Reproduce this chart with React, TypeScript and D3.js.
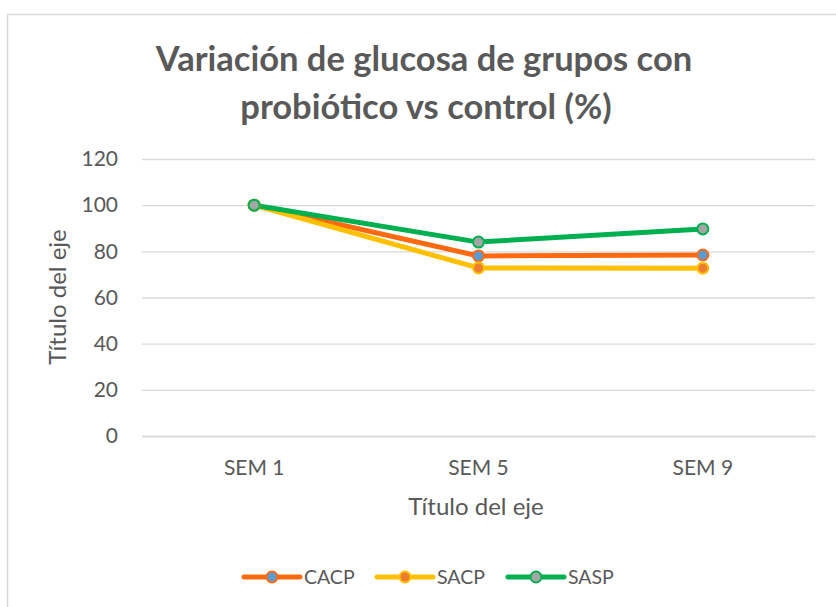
import React, { useEffect, useRef } from "react";
import * as d3 from "d3";

const categories = ["SEM 1", "SEM 5", "SEM 9"];
const seriesNames = ["CACP", "SACP", "SASP"];
const cacp = [100, 78, 78.4];
const sacp = [100, 72.8, 72.7];
const sasp = [100, 84, 89.7];
const yTicks = [0, 20, 40, 60, 80, 100, 120];

const lineColors = ["#FF6A10", "#FFC000", "#00B050"];
const markerFills = ["#5B9BD5", "#ED7D31", "#A5A5A5"];

const W = 836;
const H = 607;
const font = "Lato, 'Open Sans', sans-serif";
const grey = "#595959";

export default function App() {
  const ref = useRef<SVGSVGElement>(null);

  useEffect(() => {
    document.body.style.margin = "0";
    const svg = d3.select(ref.current);
    svg.selectAll("*").remove();

    const plot = { left: 142, right: 815, top: 159, bottom: 436 };
    const x = d3.scaleBand().domain(categories).range([plot.left, plot.right]);
    const y = d3.scaleLinear().domain([0, 120]).range([plot.bottom, plot.top]);
    const cx = (c: string) => (x(c) as number) + x.bandwidth() / 2;

    svg
      .append("rect")
      .attr("x", 7.5)
      .attr("y", 14.5)
      .attr("width", W)
      .attr("height", H)
      .attr("fill", "#fff")
      .attr("stroke", "#D9D9D9")
      .attr("stroke-width", 1.5);

    // title
    const title = svg
      .append("text")
      .attr("text-anchor", "middle")
      .attr("fill", grey)
      .attr("font-family", font)
      .attr("font-weight", "bold")
      .attr("font-size", 34.5);
    title.append("tspan").attr("x", 424).attr("y", 71).text("Variación de glucosa de grupos con");
    title.append("tspan").attr("x", 426).attr("y", 119).text("probiótico vs control (%)");

    // gridlines + y labels
    const yAxis = d3
      .axisLeft(y)
      .tickValues(yTicks)
      .tickSize(-(plot.right - plot.left))
      .tickPadding(24);
    const gy = svg
      .append("g")
      .attr("transform", `translate(${plot.left},0)`)
      .call(yAxis);
    gy.select(".domain").remove();
    gy.selectAll(".tick line").attr("stroke", "#D9D9D9").attr("stroke-width", 1.3);
    gy.selectAll(".tick text")
      .attr("fill", grey)
      .attr("font-family", font)
      .attr("font-size", 21);

    // x axis
    const xAxis = d3.axisBottom(x).tickSize(0).tickPadding(24);
    const gx = svg
      .append("g")
      .attr("transform", `translate(0,${plot.bottom})`)
      .call(xAxis);
    gx.select(".domain").attr("stroke", "#D9D9D9").attr("stroke-width", 1.3);
    gx.selectAll(".tick text")
      .attr("fill", grey)
      .attr("font-family", font)
      .attr("font-size", 21);

    // axis titles
    svg
      .append("text")
      .attr("x", 476)
      .attr("y", 515)
      .attr("text-anchor", "middle")
      .attr("fill", grey)
      .attr("font-family", font)
      .attr("font-size", 24)
      .text("Título del eje");
    svg
      .append("text")
      .attr("transform", `translate(66,297) rotate(-90)`)
      .attr("text-anchor", "middle")
      .attr("fill", grey)
      .attr("font-family", font)
      .attr("font-size", 24)
      .text("Título del eje");

    const allSeries = [cacp, sacp, sasp];
    const lineGen = d3
      .line<number>()
      .x((_, i) => cx(categories[i]))
      .y((v) => y(v));

    allSeries.forEach((vals, s) => {
      svg
        .append("path")
        .attr("d", lineGen(vals))
        .attr("fill", "none")
        .attr("stroke", lineColors[s])
        .attr("stroke-width", 5)
        .attr("stroke-linejoin", "round")
        .attr("stroke-linecap", "round");
    });
    allSeries.forEach((vals, s) => {
      svg
        .selectAll(null)
        .data(vals)
        .join("circle")
        .attr("cx", (_, i) => cx(categories[i]))
        .attr("cy", (v) => y(v))
        .attr("r", 5.5)
        .attr("fill", markerFills[s])
        .attr("stroke", lineColors[s])
        .attr("stroke-width", 2);
    });

    // legend
    const legendX = [244, 377, 508];
    seriesNames.forEach((name, s) => {
      const g = svg.append("g").attr("transform", `translate(${legendX[s]},577)`);
      g.append("line")
        .attr("x1", 0)
        .attr("x2", 56)
        .attr("stroke", lineColors[s])
        .attr("stroke-width", 5)
        .attr("stroke-linecap", "round");
      g.append("circle")
        .attr("cx", 28)
        .attr("r", 5.5)
        .attr("fill", markerFills[s])
        .attr("stroke", lineColors[s])
        .attr("stroke-width", 2);
      g.append("text")
        .attr("x", 60)
        .attr("y", 7)
        .attr("fill", grey)
        .attr("font-family", font)
        .attr("font-size", 19.5)
        .text(name);
    });
  }, []);

  return <svg ref={ref} width={W} height={H} style={{ display: "block" }} />;
}
